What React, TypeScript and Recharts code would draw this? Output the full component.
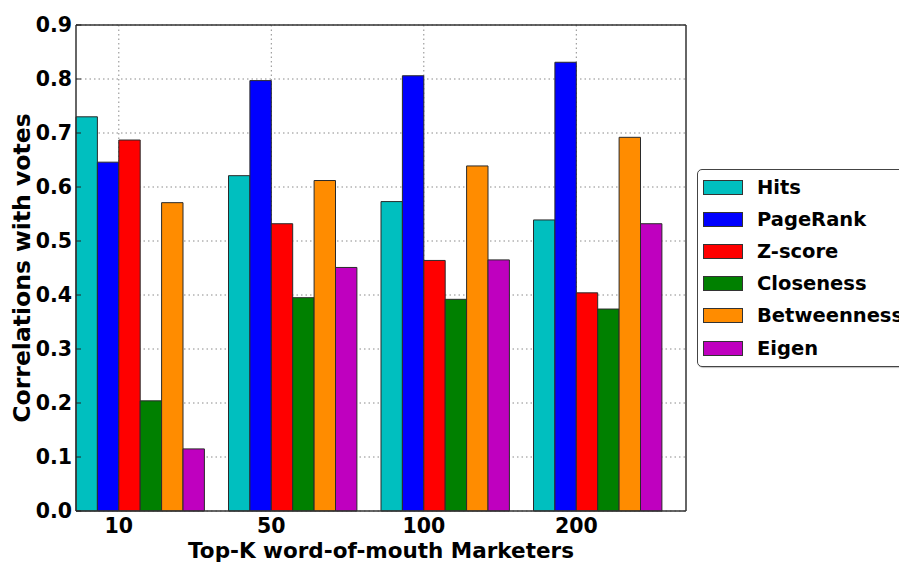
import React from 'react';
import { BarChart, Bar, XAxis, YAxis, CartesianGrid, Legend } from 'recharts';

const categories = ['10', '50', '100', '200'];
const hits = [0.73, 0.621, 0.573, 0.539];
const pageRank = [0.646, 0.797, 0.806, 0.831];
const zScore = [0.687, 0.532, 0.464, 0.404];
const closeness = [0.204, 0.395, 0.392, 0.374];
const betweenness = [0.571, 0.612, 0.639, 0.692];
const eigen = [0.115, 0.451, 0.465, 0.532];
const yTicks = [0, 0.1, 0.2, 0.3, 0.4, 0.5, 0.6, 0.7, 0.8, 0.9];

const series = [
  { key: 'Hits', values: hits, color: '#00BFBF' },
  { key: 'PageRank', values: pageRank, color: '#0000FF' },
  { key: 'Z-score', values: zScore, color: '#FF0000' },
  { key: 'Closeness', values: closeness, color: '#008000' },
  { key: 'Betweenness', values: betweenness, color: '#FF8C00' },
  { key: 'Eigen', values: eigen, color: '#BF00BF' },
];

const data = categories.map((c, i) => {
  const row: Record<string, any> = { k: c };
  series.forEach((s) => {
    row[s.key] = s.values[i];
  });
  return row;
});

const FONT = '"DejaVu Sans", sans-serif';
const W = 899;
const H = 562;
const PLOT_LEFT = 76;
const PLOT_RIGHT = 686;
const PLOT_W = PLOT_RIGHT - PLOT_LEFT;
const BAND = PLOT_W / categories.length;
const BAR_W = 21.4;
const GROUP_GAP = Math.floor((BAND - series.length * BAR_W) / 2);
// tick position inside a band (matplotlib places ticks at 2 bar widths into each group)
const TICK_IN_BAND = GROUP_GAP + 2 * BAR_W;
const FRAME = '#333';
const GRID = '#8a8a8a';

const scaleValue = (sc: any, v: any): number => {
  try {
    if (typeof sc === 'function') return Number(sc(v));
    if (sc && typeof sc.map === 'function') return Number(sc.map(v));
  } catch (e) {
    return NaN;
  }
  return NaN;
};

const XTick = (props: any) => {
  const { x, y, payload } = props;
  const dx = TICK_IN_BAND - BAND / 2;
  return (
    <text
      x={x + dx}
      y={y + 22}
      textAnchor="middle"
      fontFamily={FONT}
      fontWeight="bold"
      fontSize={20.5}
      fill="#000"
    >
      {payload.value}
    </text>
  );
};

const YTick = (props: any) => {
  const { x, y, payload } = props;
  return (
    <text
      x={x}
      y={y}
      dy={7.3}
      textAnchor="end"
      fontFamily={FONT}
      fontWeight="bold"
      fontSize={20.5}
      fill="#000"
    >
      {Number(payload.value).toFixed(1)}
    </text>
  );
};

const EmptyTick = () => <g />;

const LegendBox = () => (
  <div
    style={{
      border: '1.5px solid #444',
      borderRadius: 5,
      background: '#fff',
      width: 214,
      height: 198,
      boxSizing: 'border-box',
      paddingTop: 1,
      boxShadow: '1px 1px 1px rgba(0,0,0,0.25)',
    }}
  >
    {series.map((s) => (
      <div
        key={s.key}
        style={{ display: 'flex', alignItems: 'center', height: 32.2 }}
      >
        <div
          style={{
            width: 40,
            height: 15,
            marginLeft: 5,
            background: s.color,
            border: '1px solid #333',
            boxSizing: 'border-box',
          }}
        />
        <span
          style={{
            marginLeft: 14,
            fontFamily: FONT,
            fontWeight: 'bold',
            fontSize: 19.5,
            color: '#000',
            whiteSpace: 'nowrap',
          }}
        >
          {s.key}
        </span>
      </div>
    ))}
  </div>
);

export default function App() {
  return (
    <div
      style={{
        position: 'absolute',
        left: 0,
        top: 0,
        width: W,
        height: H,
        overflow: 'hidden',
        background: '#fff',
      }}
    >
      <BarChart
        width={W}
        height={H}
        data={data}
        margin={{ top: 24, right: 212, bottom: 21, left: 16 }}
        barGap={0}
        barSize={BAR_W}
      >
        <CartesianGrid
          stroke={GRID}
          strokeDasharray="1.5 3"
          strokeWidth={1}
          verticalCoordinatesGenerator={(p: any) => {
            const sc = p && p.xAxis && p.xAxis.scale;
            const out = categories.map((c) => {
              const v = scaleValue(sc, c);
              return isFinite(v) ? v + TICK_IN_BAND : NaN;
            });
            if (out.every((v) => isFinite(v))) return out;
            return categories.map((_, i) => PLOT_LEFT - GROUP_GAP + i * BAND + TICK_IN_BAND);
          }}
        />
        <XAxis
          dataKey="k"
          xAxisId={0}
          padding={{ left: -GROUP_GAP, right: GROUP_GAP }}
          height={30}
          tickLine={false}
          tickSize={0}
          tickMargin={0}
          axisLine={{ stroke: FRAME, strokeWidth: 1.5 }}
          tick={<XTick />}
          interval={0}
          label={(p: any) => {
            const vb = p.viewBox || { x: PLOT_LEFT, y: 511, width: PLOT_W, height: 30 };
            return (
              <text
                x={vb.x + vb.width / 2}
                y={vb.y + 47}
                textAnchor="middle"
                fontFamily={FONT}
                fontWeight="bold"
                fontSize={21.5}
                fill="#000"
              >
                Top-K word-of-mouth Marketers
              </text>
            );
          }}
        />
        <XAxis
          dataKey="k"
          xAxisId="top"
          orientation="top"
          height={1}
          tick={false}
          tickLine={false}
          axisLine={{ stroke: FRAME, strokeWidth: 1.5 }}
        />
        <YAxis
          yAxisId={0}
          domain={[0, 0.9]}
          ticks={yTicks}
          width={60}
          tickSize={-5}
          tickMargin={9}
          tickLine={{ stroke: '#222' }}
          axisLine={{ stroke: FRAME, strokeWidth: 1.5 }}
          tick={<YTick />}
          interval={0}
          label={(p: any) => {
            const vb = p.viewBox || { x: 16, y: 25, width: 60, height: 486 };
            const cx = 30;
            const cy = vb.y + vb.height / 2;
            return (
              <text
                x={cx}
                y={cy}
                transform={`rotate(-90, ${cx}, ${cy})`}
                textAnchor="middle"
                fontFamily={FONT}
                fontWeight="bold"
                fontSize={23.5}
                fill="#000"
              >
                Correlations with votes
              </text>
            );
          }}
        />
        <YAxis
          yAxisId="right"
          orientation="right"
          domain={[0, 0.9]}
          ticks={yTicks}
          width={1}
          tickSize={-5}
          tickLine={{ stroke: '#222' }}
          axisLine={{ stroke: FRAME, strokeWidth: 1.5 }}
          tick={<EmptyTick />}
          interval={0}
        />
        <Legend
          layout="horizontal"
          verticalAlign="middle"
          align="center"
          wrapperStyle={{ left: 697, top: 169, width: 215 }}
          content={() => <LegendBox />}
        />
        {series.map((s) => (
          <Bar
            key={s.key}
            dataKey={s.key}
            fill={s.color}
            stroke="#2a2a2a"
            strokeWidth={1}
            isAnimationActive={false}
          />
        ))}
      </BarChart>
    </div>
  );
}
